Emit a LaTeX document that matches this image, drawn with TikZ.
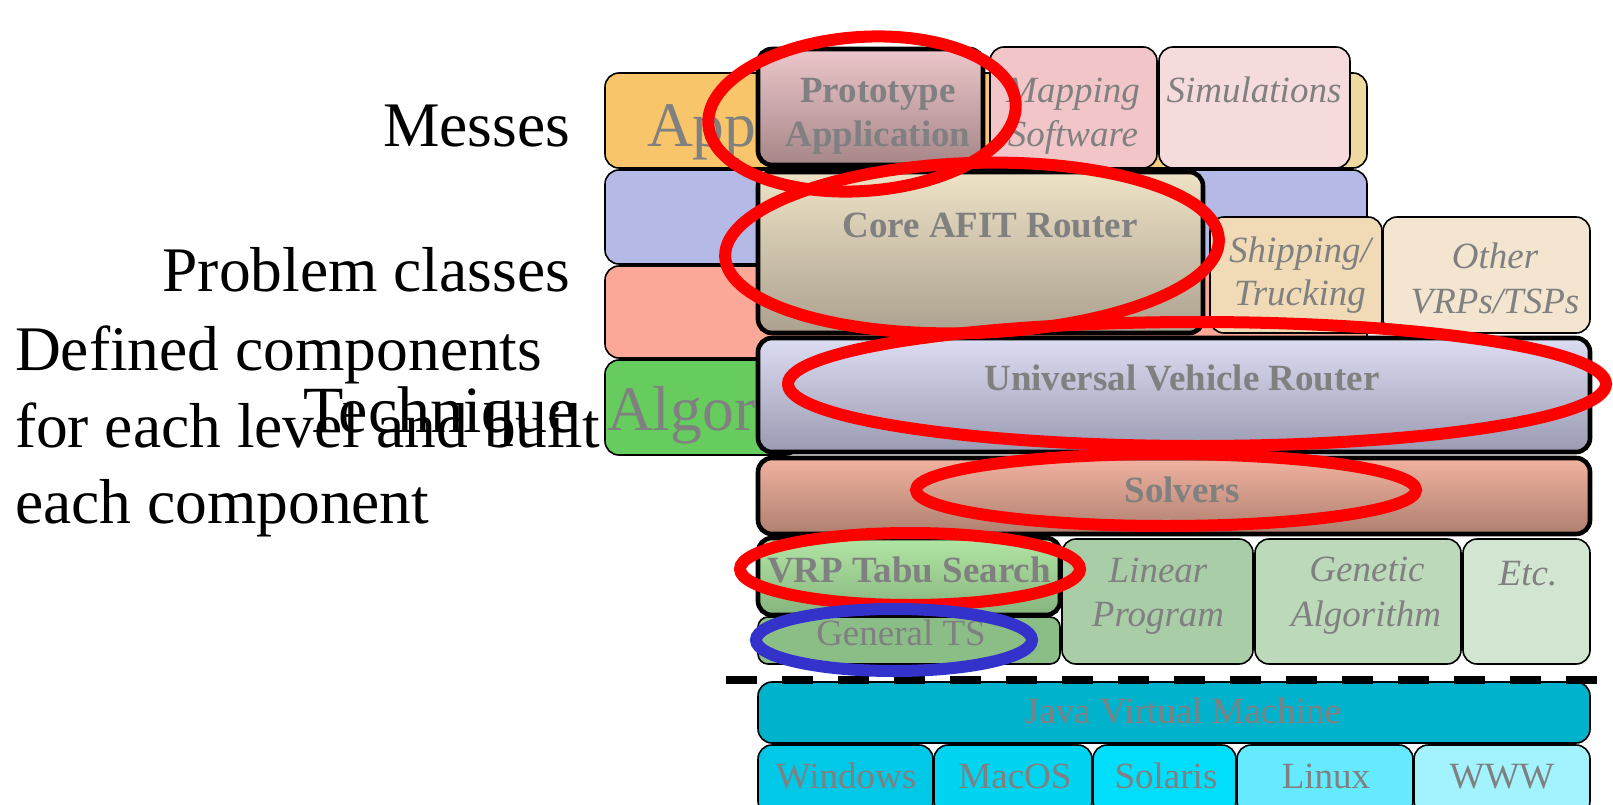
\documentclass[tikz,border=0pt]{standalone}
\usepackage{fontspec}
\setmainfont{Liberation Serif}
\definecolor{txtgray}{HTML}{808080}
\definecolor{apporange}{HTML}{F8C56B}
\definecolor{appyellow}{HTML}{EFDAA2}
\definecolor{rowblue}{HTML}{B5B9E5}
\definecolor{rowsalmon}{HTML}{FBA898}
\definecolor{rowgreen}{HTML}{66CC5E}
\definecolor{mapfill}{HTML}{F2C6C8}
\definecolor{simfill}{HTML}{F6DBDD}
\definecolor{shipfill}{HTML}{F0DBB6}
\definecolor{othfill}{HTML}{F3E5CF}
\definecolor{gtsfill}{HTML}{8BBD86}
\definecolor{linfill}{HTML}{A9CDA7}
\definecolor{genfill}{HTML}{BCD9BA}
\definecolor{etcfill}{HTML}{D1E5D0}
\definecolor{jvmfill}{HTML}{00B2CB}
\definecolor{winfill}{HTML}{00C8E6}
\definecolor{macfill}{HTML}{00D4F0}
\definecolor{solfill}{HTML}{00DEFC}
\definecolor{linuxfill}{HTML}{66EAFF}
\definecolor{wwwfill}{HTML}{A3F3FF}
\definecolor{ellred}{HTML}{FF0000}
\definecolor{ellblue}{HTML}{3333CC}
\definecolor{protoTop}{HTML}{ECC6CA}
\definecolor{protoBot}{HTML}{A68688}
\definecolor{coreTop}{HTML}{EEE2C6}
\definecolor{coreBot}{HTML}{ACA18F}
\definecolor{uvrTop}{HTML}{DCDCF2}
\definecolor{uvrBot}{HTML}{9A9AB2}
\definecolor{solvTop}{HTML}{F2B2A0}
\definecolor{solvBot}{HTML}{AE8070}
\definecolor{tabuTop}{HTML}{B2E6A4}
\definecolor{tabuBot}{HTML}{86B47E}
\pgfdeclarehorizontalshading{appshade}{100bp}{color(0bp)=(apporange); color(56bp)=(apporange); color(69bp)=(appyellow); color(100bp)=(appyellow)}
\begin{document}
\begin{tikzpicture}[x=1pt,y=-1pt,
  box/.style={draw=black, line width=1.6pt, rounded corners=14pt, inner sep=0pt, outer sep=0pt, anchor=north west},
  thickbox/.style={box, line width=4.6pt},
  big/.style={font=\fontsize{63.5}{70}\selectfont, inner sep=0pt, outer sep=0pt},
  lbl/.style={text=txtgray, font=\fontsize{37}{42}\selectfont, anchor=base, inner sep=0pt, outer sep=0pt},
  blbl/.style={lbl, font=\fontsize{37}{42}\selectfont\bfseries},
  ilbl/.style={lbl, font=\fontsize{37}{42}\selectfont\itshape},
  sep/.style={line width=7.5pt, dash pattern=on 31pt off 25pt},
  ring/.style={line width=12pt, draw=ellred},
  bluering/.style={line width=12pt, draw=ellblue}
]
\useasboundingbox (0,0) rectangle (1613,805);

% left column boxes
\node[box, shading=appshade, minimum width=762pt, minimum height=95pt] (app) at (605,73) {};
\node[box, fill=rowblue, minimum width=762pt, minimum height=94pt] (pcl) at (605,170) {};
\node[box, fill=rowsalmon, minimum width=762pt, minimum height=92pt] (tec) at (605,266) {};
\node[box, fill=rowgreen, minimum width=195pt, minimum height=95pt] (alg) at (605,360) {};
\node[big, text=txtgray, anchor=base west] (apptxt) at (647,147) {App};
\node[big, text=txtgray, anchor=base west] (algtxt) at (607,430) {Algor};

% left labels
\node[big, anchor=base east] (messes) at (570,147) {Messes};
\node[big, anchor=base east] (probcl) at (570,291) {Problem classes};
\node[big, anchor=base west] (def1) at (15,370) {Defined components};
\node[big, anchor=base west] (def2) at (15,447) {for each level and built};
\node[big, anchor=base west] (def3) at (15,523) {each component};
\node[big, font=\fontsize{66}{72}\selectfont, anchor=base west] (techn) at (303,432) {Technique};

% application row
\node[thickbox, top color=protoTop, bottom color=protoBot, minimum width=225pt, minimum height=116pt] (proto) at (758,49) {};
\node[box, fill=mapfill, minimum width=167pt, minimum height=121pt] (map) at (990,47) {};
\node[box, fill=simfill, minimum width=191pt, minimum height=121pt] (sim) at (1159,47) {};

% problem classes
\node[thickbox, top color=coreTop, bottom color=coreBot, minimum width=445pt, minimum height=161pt] (core) at (758,172) {};
\node[box, fill=shipfill, minimum width=172pt, minimum height=116pt] (ship) at (1210,217) {};
\node[box, fill=othfill, minimum width=207pt, minimum height=116pt] (oth) at (1383,217) {};

% router, solvers
\node[thickbox, top color=uvrTop, bottom color=uvrBot, minimum width=832pt, minimum height=114pt] (uvr) at (758,338) {};
\node[thickbox, top color=solvTop, bottom color=solvBot, minimum width=832pt, minimum height=76pt] (solv) at (758,458) {};

% techniques
\node[thickbox, top color=tabuTop, bottom color=tabuBot, minimum width=302pt, minimum height=77pt] (tabu) at (758,538) {};
\node[box, fill=gtsfill, rounded corners=10pt, minimum width=302pt, minimum height=47pt] (gts) at (758,617) {};
\node[box, fill=linfill, minimum width=191pt, minimum height=125pt] (lin) at (1062,539) {};
\node[box, fill=genfill, minimum width=206pt, minimum height=125pt] (gen) at (1255,539) {};
\node[box, fill=etcfill, minimum width=127pt, minimum height=125pt] (etc) at (1463,539) {};

% platform
\node[box, fill=jvmfill, minimum width=832pt, minimum height=61pt] (jvm) at (758,682) {};
\node[box, fill=winfill, minimum width=175pt, minimum height=70pt] (win) at (758,745) {};
\node[box, fill=macfill, minimum width=158pt, minimum height=70pt] (mac) at (934,745) {};
\node[box, fill=solfill, minimum width=143pt, minimum height=70pt] (sol) at (1093,745) {};
\node[box, fill=linuxfill, minimum width=176pt, minimum height=70pt] (linux) at (1237,745) {};
\node[box, fill=wwwfill, minimum width=176pt, minimum height=70pt] (www) at (1414,745) {};

% labels
\node[blbl] (t1) at (878,103) {Prototype};
\node[blbl] (t2) at (878,147) {Application};
\node[ilbl] (t3) at (1073,103) {Mapping};
\node[ilbl] (t4) at (1073,147) {Software};
\node[ilbl] (t5) at (1254,103) {Simulations};
\node[blbl] (t6) at (990,237) {Core AFIT Router};
\node[ilbl] (t7) at (1300,262) {Shipping/};
\node[ilbl] (t8) at (1300,305) {Trucking};
\node[ilbl] (t9) at (1495,268) {Other};
\node[ilbl] (t10) at (1495,313) {VRPs/TSPs};
\node[blbl] (t11) at (1182,390) {Universal Vehicle Router};
\node[blbl] (t12) at (1182,502) {Solvers};
\node[blbl] (t13) at (909,582) {VRP Tabu Search};
\node[lbl] (t14) at (901,645) {General TS};
\node[ilbl] (t15) at (1158,582) {Linear};
\node[ilbl] (t16) at (1158,626) {Program};
\node[ilbl] (t17) at (1367,581) {Genetic};
\node[ilbl] (t18) at (1366,626) {Algorithm};
\node[ilbl] (t19) at (1528,585) {Etc.};
\node[lbl] (t20) at (1183,723) {Java Virtual Machine};
\node[lbl] (t21) at (846,788) {Windows};
\node[lbl] (t22) at (1015,788) {MacOS};
\node[lbl] (t23) at (1166,788) {Solaris};
\node[lbl] (t24) at (1326,788) {Linux};
\node[lbl] (t25) at (1502,788) {WWW};

% separator
\coordinate (sepL) at (726,680);
\coordinate (sepR) at (1598,680);
\draw[sep] (sepL) -- (sepR);

% highlight rings
\draw[ring, rotate around={4:(862,114)}] (862,114) ellipse [x radius=154, y radius=77];
\draw[ring, rotate around={2:(972,248)}] (972,248) ellipse [x radius=247, y radius=85];
\draw[ring] (1197,384) ellipse [x radius=409, y radius=62];
\draw[ring] (1166,490) ellipse [x radius=250, y radius=36];
\draw[ring] (910,569) ellipse [x radius=170, y radius=36];
\draw[bluering] (894,640) ellipse [x radius=138, y radius=31];
\end{tikzpicture}
\end{document}
